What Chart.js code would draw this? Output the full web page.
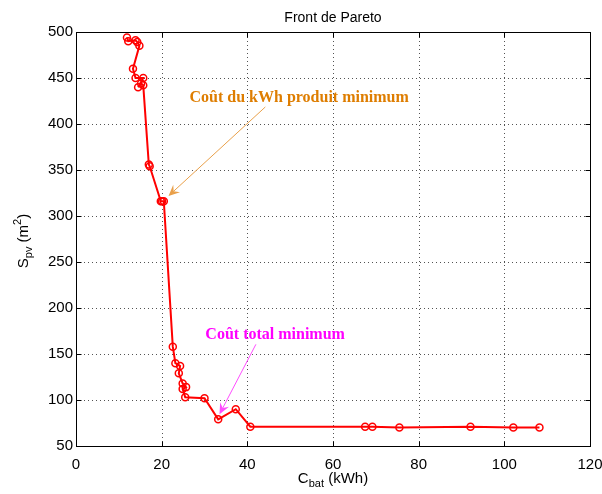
<!DOCTYPE html>
<html><head><meta charset="utf-8">
<script src="https://cdn.jsdelivr.net/npm/chart.js@4.4.0/dist/chart.umd.min.js"></script>
<style>html,body{margin:0;padding:0;background:#fff}#wrap{width:602px;height:494px}</style>
</head><body><div id="wrap"><canvas id="c" width="602" height="494"></canvas></div>
<script>
// ---- data ----
const cBat = [11.9, 12.2, 13.9, 14.3, 14.8, 13.3, 13.9, 15.7, 14.5, 15.2, 15.7, 17.0, 17.2, 19.8, 20.1, 20.5,
              22.6, 23.2, 24.3, 24.0, 24.9, 25.7, 24.9, 25.5, 30.0, 33.2, 37.3, 40.7,
              67.5, 69.2, 75.5, 92.1, 102.1, 108.2];
const sPv  = [494, 490, 491, 489, 485, 460, 450, 450, 440, 444, 442, 356, 354, 316, 316, 316,
              158, 140, 137, 129, 118, 114, 112, 103, 102, 79, 90, 71,
              71, 71, 70, 71, 70, 70];
const xTicks = [0, 20, 40, 60, 80, 100, 120];
const yTicks = [50, 100, 150, 200, 250, 300, 350, 400, 450, 500];
const chartTitle = 'Front de Pareto';
const notes = [
  {text: 'Coût du kWh produit minimum', color: '#DE7D00', arrowColor: '#E9A04A',
   tx: 26.5, ty: 423.9, fx: 44.2, fy: 418.5, ax: 21.6, ay: 321.8},
  {text: 'Coût total minimum', color: '#FF00FF', arrowColor: '#FF4CFF',
   tx: 30.2, ty: 166.7, fx: 42.0, fy: 160.5, ax: 33.5, ay: 84.5}
];

const points = cBat.map((x, i) => ({x: x, y: sPv[i]}));
const tickFont = {family: '"Liberation Sans", Arial, sans-serif', size: 15};

function drawArrow(ctx, x1, y1, x2, y2, color) {
  const ang = Math.atan2(y2 - y1, x2 - x1);
  const L = 11, W = 5, back = 7;
  ctx.save();
  ctx.strokeStyle = color; ctx.lineWidth = 1;
  const bx = x2 - Math.cos(ang) * back, by = y2 - Math.sin(ang) * back;
  ctx.beginPath(); ctx.moveTo(x1, y1); ctx.lineTo(bx, by); ctx.stroke();
  ctx.fillStyle = color;
  const px = -Math.sin(ang), py = Math.cos(ang);
  const hx = x2 - Math.cos(ang) * L, hy = y2 - Math.sin(ang) * L;
  ctx.beginPath();
  ctx.moveTo(x2, y2);
  ctx.lineTo(hx + px * W, hy + py * W);
  ctx.lineTo(bx, by);
  ctx.lineTo(hx - px * W, hy - py * W);
  ctx.closePath(); ctx.fill();
  ctx.restore();
}

const decor = {
  id: 'decor',
  beforeDatasetsDraw(chart) {
    const {ctx, chartArea: a, scales: {x, y}} = chart;
    ctx.save();
    ctx.strokeStyle = 'rgba(40,40,40,0.8)';
    ctx.lineWidth = 1;
    ctx.setLineDash([1, 3]);
    xTicks.slice(1, -1).forEach(v => {
      const px = Math.round(x.getPixelForValue(v)) + 0.5;
      ctx.beginPath(); ctx.moveTo(px, a.bottom); ctx.lineTo(px, a.top); ctx.stroke();
    });
    yTicks.slice(1, -1).forEach(v => {
      const py = Math.round(y.getPixelForValue(v)) + 0.5;
      ctx.beginPath(); ctx.moveTo(a.left, py); ctx.lineTo(a.right, py); ctx.stroke();
    });
    ctx.restore();
  },
  afterDatasetsDraw(chart) {
    const {ctx, chartArea: a, scales: {x, y}} = chart;
    ctx.save();
    // box
    ctx.strokeStyle = '#000'; ctx.lineWidth = 1;
    const L = Math.round(a.left) + 0.5, R = Math.round(a.right) + 0.5;
    const T = Math.round(a.top) + 0.5, B = Math.round(a.bottom) + 0.5;
    ctx.strokeRect(L, T, R - L, B - T);
    // inward ticks
    const tl = 5;
    ctx.beginPath();
    xTicks.forEach(v => {
      const px = Math.round(x.getPixelForValue(v)) + 0.5;
      ctx.moveTo(px, B); ctx.lineTo(px, B - tl);
      ctx.moveTo(px, T); ctx.lineTo(px, T + tl);
    });
    yTicks.forEach(v => {
      const py = Math.round(y.getPixelForValue(v)) + 0.5;
      ctx.moveTo(L, py); ctx.lineTo(L + tl, py);
      ctx.moveTo(R, py); ctx.lineTo(R - tl, py);
    });
    ctx.stroke();

    // annotations
    notes.forEach(n => {
      drawArrow(ctx, x.getPixelForValue(n.fx), y.getPixelForValue(n.fy),
                x.getPixelForValue(n.ax), y.getPixelForValue(n.ay), n.arrowColor);
      ctx.font = 'bold 16px "Liberation Serif", "Times New Roman", serif';
      ctx.fillStyle = n.color;
      ctx.textAlign = 'left'; ctx.textBaseline = 'alphabetic';
      ctx.fillText(n.text, x.getPixelForValue(n.tx), y.getPixelForValue(n.ty));
    });

    // title
    ctx.fillStyle = '#000';
    ctx.font = '14px "Liberation Sans", Arial, sans-serif';
    ctx.textAlign = 'center'; ctx.textBaseline = 'alphabetic';
    ctx.fillText(chartTitle, (a.left + a.right) / 2, 22);

    // x title: C_bat (kWh)
    const big = '15px "Liberation Sans", Arial, sans-serif';
    const small = '11px "Liberation Sans", Arial, sans-serif';
    ctx.textAlign = 'left';
    let parts = [['C', big, 0], ['bat', small, 4], [' (kWh)', big, 0]];
    let w = 0;
    parts.forEach(p => { ctx.font = p[1]; w += ctx.measureText(p[0]).width; });
    let cx = (a.left + a.right) / 2 - w / 2, base = 483;
    parts.forEach(p => { ctx.font = p[1]; ctx.fillText(p[0], cx, base + p[2]); cx += ctx.measureText(p[0]).width; });

    // y title: S_pv (m^2)
    ctx.save();
    ctx.translate(28, 241);
    ctx.rotate(-Math.PI / 2);
    parts = [['S', big, 0], ['pv', small, 4], [' (m', big, 0], ['2', small, -7], [')', big, 0]];
    w = 0;
    parts.forEach(p => { ctx.font = p[1]; w += ctx.measureText(p[0]).width; });
    cx = -w / 2;
    parts.forEach(p => { ctx.font = p[1]; ctx.fillText(p[0], cx, p[2]); cx += ctx.measureText(p[0]).width; });
    ctx.restore();

    ctx.restore();
  }
};

new Chart(document.getElementById('c'), {
  type: 'scatter',
  data: {
    datasets: [{
      data: points,
      showLine: true,
      borderColor: '#FF0000',
      borderWidth: 2,
      pointRadius: 3.5,
      pointBorderWidth: 1.5,
      pointBorderColor: '#FF0000',
      pointBackgroundColor: 'rgba(0,0,0,0)',
      tension: 0
    }]
  },
  options: {
    responsive: false,
    animation: false,
    devicePixelRatio: 1,
    layout: {padding: {top: 32, right: 12, left: 0, bottom: 0}},
    plugins: {legend: {display: false}, tooltip: {enabled: false}, title: {display: false}},
    scales: {
      x: {
        type: 'linear', min: 0, max: 120,
        afterBuildTicks: s => { s.ticks = xTicks.map(v => ({value: v})); },
        ticks: {font: tickFont, color: '#000', padding: 10, maxRotation: 0, autoSkip: false},
        grid: {display: false, drawTicks: false}, border: {display: false},
        afterFit: s => { s.height = 48; s.paddingLeft = 0; s.paddingRight = 0; }
      },
      y: {
        type: 'linear', min: 50, max: 500,
        afterBuildTicks: s => { s.ticks = yTicks.map(v => ({value: v})); },
        ticks: {font: tickFont, color: '#000', padding: 3, autoSkip: false},
        grid: {display: false, drawTicks: false}, border: {display: false},
        afterFit: s => { s.width = 76; s.paddingTop = 0; s.paddingBottom = 0; }
      }
    }
  },
  plugins: [decor]
});
</script>
</body></html>
